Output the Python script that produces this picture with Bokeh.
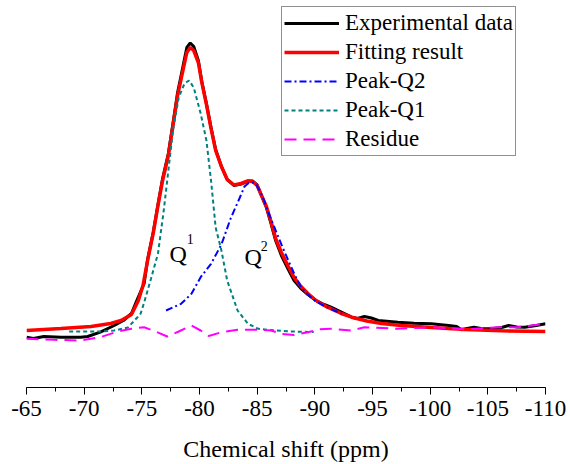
from bokeh.plotting import figure
from bokeh.models import Range1d, SingleIntervalTicker, Label, Legend, LegendItem, CustomJSTickFormatter
from bokeh.embed import file_html
from bokeh.resources import INLINE

# Experimental spectrum (ppm, intensity a.u.)
exp_ppm = [-65.0, -65.6, -66.5, -68.0, -69.7, -70.3, -71.4, -72.6, -73.4, -74.1, -74.6, -75.2,
           -75.5, -76.0, -76.4, -76.8, -77.3, -77.7, -78.1, -78.6, -78.9, -79.2, -79.5, -79.9,
           -80.2, -80.6, -81.0, -81.4, -81.9, -82.4, -83.0, -83.6, -84.2, -84.6, -85.0, -85.3,
           -85.8, -86.2, -86.6, -87.1, -87.7, -88.2, -88.8, -89.4, -90.1, -90.8, -91.4, -92.3,
           -93.2, -93.7, -94.3, -94.9, -95.5, -97.2, -98.6, -100.1, -101.6, -102.3, -102.7,
           -103.2, -103.8, -104.4, -105.3, -106.2, -106.8, -107.5, -108.2, -109.2, -110.0]
exp_int = [50.3, 49, 51, 50.3, 50.3, 51, 55.3, 62, 67, 74, 88, 104,
           128, 156, 183, 209, 234, 264, 295, 323, 340, 344.5, 341, 327,
           306, 284, 260, 238, 221, 208, 202, 203.5, 206.5, 206.5, 202.5, 194,
           180, 164, 147, 132, 118, 107, 99, 93, 87, 83, 80.3, 75.3,
           70.3, 69, 71, 69.5, 67, 65.3, 64.3, 63.7, 62, 61, 57.7,
           59, 60.3, 59, 58.7, 60, 62, 60.5, 60.3, 62, 63.7]

# Fitting result
fit_ppm = [-65.0, -68.0, -70.6, -72.3, -73.2, -74.1, -74.7, -75.1, -75.5, -76.0, -76.4, -76.8,
           -77.3, -77.7, -78.1, -78.6, -78.9, -79.2, -79.5, -79.9, -80.2, -80.6, -81.0, -81.4,
           -81.9, -82.4, -83.0, -83.6, -84.2, -84.6, -85.0, -85.3, -85.8, -86.2, -86.6, -87.1,
           -87.7, -88.2, -88.8, -89.4, -90.1, -91.1, -92.3, -93.2, -94.5, -95.8, -97.5, -100.1,
           -103.0, -106.2, -110.0]
fit_int = [57, 59, 61, 64, 67, 73, 87, 102, 127, 155, 182, 207,
           232, 262, 292, 319, 335, 340, 337, 325, 305, 283, 259, 237,
           221, 208, 202.5, 204, 206.5, 206, 202, 194, 181, 166, 149, 135,
           121, 110, 101, 94, 87, 80.3, 74, 70.3, 66.5, 64, 62, 60,
           58, 56.7, 56]

# Peak-Q2
q2_ppm = [-77.1, -78.4, -79.3, -80.1, -81.0, -81.9, -82.7, -83.5, -83.9, -84.3, -84.6, -84.9,
          -85.3, -85.6, -86.0, -86.5, -87.1, -87.7, -88.2, -88.8, -89.4, -90.0, -90.8, -91.7, -92.5]
q2_int = [77, 83.7, 93.7, 110.3, 123.7, 143, 169, 190, 201, 205, 205, 203.5,
          195, 187, 174, 160, 143, 127, 114, 100.3, 93, 87, 81.5, 77, 73]

# Peak-Q1
q1_ppm = [-68.7, -71.4, -72.6, -73.8, -74.6, -74.9, -75.2, -75.8, -76.4, -76.9, -77.2, -77.7,
          -78.2, -78.7, -79.1, -79.5, -80.1, -80.6, -80.9, -81.0, -81.4, -81.9, -82.4, -83.3,
          -84.2, -85.1, -85.9, -87.9, -89.9]
q1_int = [56, 56, 57, 60, 70, 74, 85, 109, 134, 177, 207, 257,
          290, 304, 307, 300, 274, 247, 217, 207, 160, 137, 107, 77,
          63.7, 58.7, 57.7, 56, 55.5]

# Residue
res_ppm = [-65.0, -67.4, -69.7, -71.4, -72.9, -74.1, -75.2, -76.2, -77.2, -78.2, -79.3, -80.1,
           -80.8, -81.9, -83.3, -85.1, -86.2, -87.1, -88.2, -89.4, -90.4, -91.4, -93.2, -94.3,
           -97.2, -100.1, -103.0, -105.9, -107.6, -110.0]
res_int = [48.7, 47.7, 47, 50.3, 56, 58.7, 60.3, 56, 51, 56, 62, 57,
           51.5, 55.3, 57.7, 57.7, 57, 53.7, 52.5, 55.3, 58.2, 58.7, 57, 60.3,
           58.7, 60.3, 58.2, 60.3, 60.3, 63.7]

legend_labels = ["Experimental data", "Fitting result", "Peak-Q2", "Peak-Q1", "Residue"]
x_title = "Chemical shift (ppm)"

SERIF = "Liberation Serif"

p = figure(width=570, height=464, output_backend="svg", toolbar_location=None,
           x_range=Range1d(-65, -110), y_range=Range1d(0, 387),
           y_axis_location=None, min_border_left=26, min_border_right=25,
           min_border_top=0, min_border_bottom=77)
p.outline_line_color = None
p.xgrid.visible = False
p.ygrid.visible = False
p.background_fill_color = "white"
p.border_fill_color = "white"

r_exp = p.line(exp_ppm, exp_int, line_color="black", line_width=3)
r_fit = p.line(fit_ppm, fit_int, line_color="#FF0000", line_width=3.5)
r_q2 = p.line(q2_ppm, q2_int, line_color="#0000FF", line_width=2, line_dash="7 3 2 3")
r_q1 = p.line(q1_ppm, q1_int, line_color="#008080", line_width=2, line_dash="4 3")
r_res = p.line(res_ppm, res_int, line_color="#FF00FF", line_width=2, line_dash="12 7")

ax = p.xaxis[0]
ax.ticker = SingleIntervalTicker(interval=5, num_minor_ticks=2)
ax.formatter = CustomJSTickFormatter(code="return tick.toString();")
ax.axis_label = x_title
ax.axis_label_text_font = SERIF
ax.axis_label_text_font_size = "24px"
ax.axis_label_text_font_style = "normal"
ax.axis_label_text_color = "black"
ax.axis_label_standoff = 17
ax.major_label_text_font = SERIF
ax.major_label_text_font_size = "23px"
ax.major_label_text_color = "black"
ax.major_label_standoff = 6
ax.major_tick_out = 7
ax.major_tick_in = 0
ax.minor_tick_out = 4
ax.minor_tick_in = 0
ax.axis_line_color = "black"
ax.axis_line_width = 1.2
ax.major_tick_line_color = "black"
ax.minor_tick_line_color = "black"

legend = Legend(items=[LegendItem(label=l, renderers=[r]) for l, r in
                       zip(legend_labels, [r_exp, r_fit, r_q2, r_q1, r_res])],
                location=(255, 231))
legend.label_text_font = SERIF
legend.label_text_font_size = "23px"
legend.label_text_color = "black"
legend.glyph_width = 55
legend.glyph_height = 28
legend.label_height = 28
legend.label_standoff = 6
legend.spacing = 1
legend.padding = 2
legend.margin = 0
legend.border_line_color = "#222222"
legend.border_line_width = 1
legend.background_fill_alpha = 1
p.add_layout(legend, "center")

# Peak labels
p.add_layout(Label(x=-77.4, y=134, text="Q", text_font=SERIF, text_font_size="24px",
                   text_baseline="alphabetic", text_color="black"))
p.add_layout(Label(x=-78.9, y=149, text="1", text_font=SERIF, text_font_size="14px",
                   text_baseline="alphabetic", text_color="black"))
p.add_layout(Label(x=-83.9, y=131, text="Q", text_font=SERIF, text_font_size="24px",
                   text_baseline="alphabetic", text_color="black"))
p.add_layout(Label(x=-85.3, y=142, text="2", text_font=SERIF, text_font_size="14px",
                   text_baseline="alphabetic", text_color="black"))

open("out.html", "w").write(file_html(p, INLINE))
